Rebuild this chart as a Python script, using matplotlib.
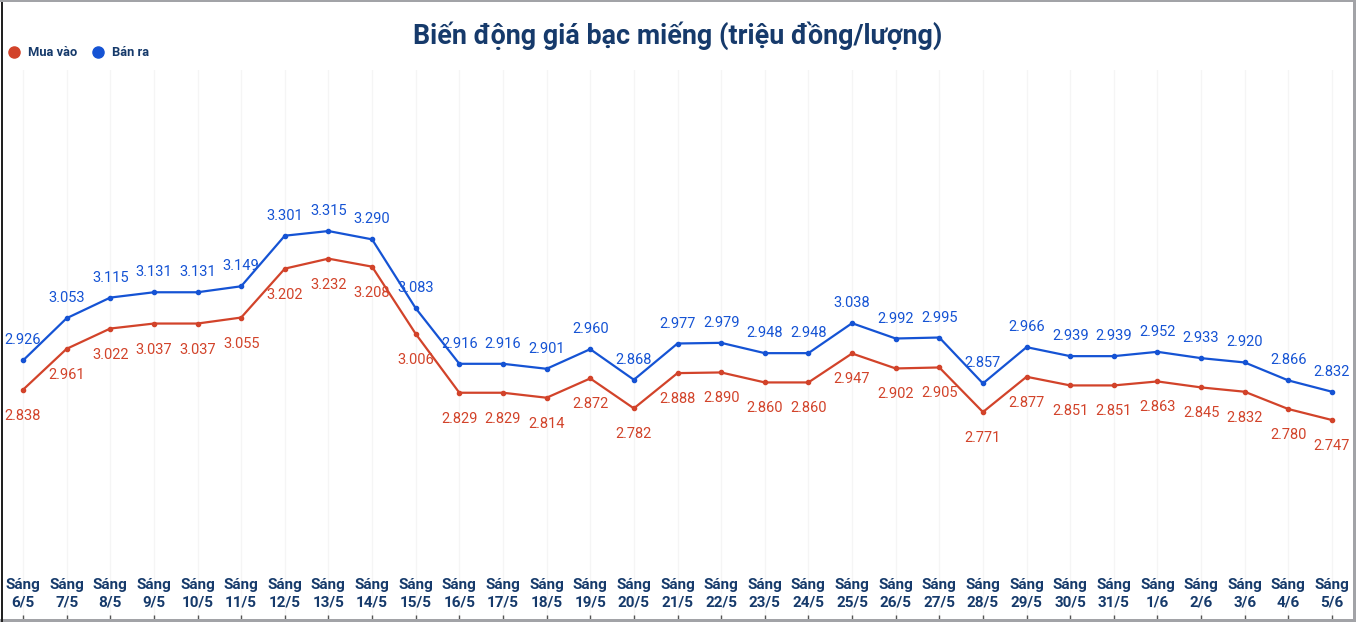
import matplotlib
matplotlib.use("Agg")
import matplotlib.pyplot as plt
from matplotlib.patches import Rectangle
from matplotlib.lines import Line2D
import matplotlib.transforms as mtransforms

W, H = 1356, 622

dates = ["6/5", "7/5", "8/5", "9/5", "10/5", "11/5", "12/5", "13/5", "14/5", "15/5",
         "16/5", "17/5", "18/5", "19/5", "20/5", "21/5", "22/5", "23/5", "24/5", "25/5",
         "26/5", "27/5", "28/5", "29/5", "30/5", "31/5", "1/6", "2/6", "3/6", "4/6", "5/6"]

mua_vao = [2.838, 2.961, 3.022, 3.037, 3.037, 3.055, 3.202, 3.232, 3.208, 3.006,
           2.829, 2.829, 2.814, 2.872, 2.782, 2.888, 2.890, 2.860, 2.860, 2.947,
           2.902, 2.905, 2.771, 2.877, 2.851, 2.851, 2.863, 2.845, 2.832, 2.780, 2.747]

ban_ra = [2.926, 3.053, 3.115, 3.131, 3.131, 3.149, 3.301, 3.315, 3.290, 3.083,
          2.916, 2.916, 2.901, 2.960, 2.868, 2.977, 2.979, 2.948, 2.948, 3.038,
          2.992, 2.995, 2.857, 2.966, 2.939, 2.939, 2.952, 2.933, 2.920, 2.866, 2.832]

RED = "#d2432a"
BLUE = "#1553d4"
NAVY = "#163a6b"

plt.rcParams['font.family'] = ['Roboto', 'DejaVu Sans']

fig = plt.figure(figsize=(W / 100, H / 100), dpi=100)
fig.patch.set_facecolor("white")

# axes spans pixel x 3..1353, y 70..619 (from top)
ax = fig.add_axes([3 / W, 3 / H, 1350 / W, (619 - 70) / H])
x = list(range(len(dates)))
step = 30 / 1309
ax.set_xlim(-20 * step, 30 + 21 * step)
ax.set_ylim(2.149, 3.799)

ax.plot(x, mua_vao, color=RED, lw=1.6, marker="o", ms=3, zorder=3)
ax.plot(x, ban_ra, color=BLUE, lw=1.6, marker="o", ms=3, zorder=3)

for i in x:
    ax.annotate(f"{ban_ra[i]:.3f}", (i, ban_ra[i]), xytext=(0, 20), textcoords="offset pixels",
                ha="center", va="center", fontsize=10.5, color=BLUE)
    ax.annotate(f"{mua_vao[i]:.3f}", (i, mua_vao[i]), xytext=(0, -26), textcoords="offset pixels",
                ha="center", va="center", fontsize=10.5, color=RED)

for s in ax.spines.values():
    s.set_visible(False)
ax.set_yticks([])
ax.set_xticks(x)
ax.set_xticklabels([])
ax.tick_params(axis="x", direction="in", length=3, color="#555555", width=1)
ax.grid(axis="x", color="#f5f5f5", lw=1)
ax.set_axisbelow(True)

trans = mtransforms.blended_transform_factory(ax.transData, fig.transFigure)
for i, d in enumerate(dates):
    ax.text(i, 1 - 594 / H, f"Sáng\n{d}", transform=trans, ha="center", va="center",
            fontsize=11, fontweight="bold", color=NAVY, linespacing=1.35)

fig.text(0.5, 1 - 36 / H, "Biến động giá bạc miếng (triệu đồng/lượng)", ha="center", va="center",
         fontsize=19.4, fontweight="bold", color=NAVY)

# legend
fig.add_artist(Line2D([14 / W], [1 - 52 / H], marker="o", ms=8, color=RED, lw=0))
fig.text(28 / W, 1 - 52 / H, "Mua vào", ha="left", va="center", fontsize=9.3,
         fontweight="bold", color=NAVY)
fig.add_artist(Line2D([98 / W], [1 - 52 / H], marker="o", ms=8, color=BLUE, lw=0))
fig.text(112 / W, 1 - 52 / H, "Bán ra", ha="left", va="center", fontsize=9.3,
         fontweight="bold", color=NAVY)

# frame
gray = "#a2a3a7"
fig.add_artist(Rectangle((0, 1 - 2 / H), 1, 2 / H, transform=fig.transFigure, color=gray, lw=0))
fig.add_artist(Rectangle((1 - 3 / W, 0), 3 / W, 1, transform=fig.transFigure, color=gray, lw=0))
fig.add_artist(Rectangle((0, 0), 1, 3 / H, transform=fig.transFigure, color=gray, lw=0))
fig.add_artist(Rectangle((1 / W, 0), 2 / W, 1 - 2 / H, transform=fig.transFigure, color="#222222", lw=0))

fig.savefig("out.png", dpi=100)
